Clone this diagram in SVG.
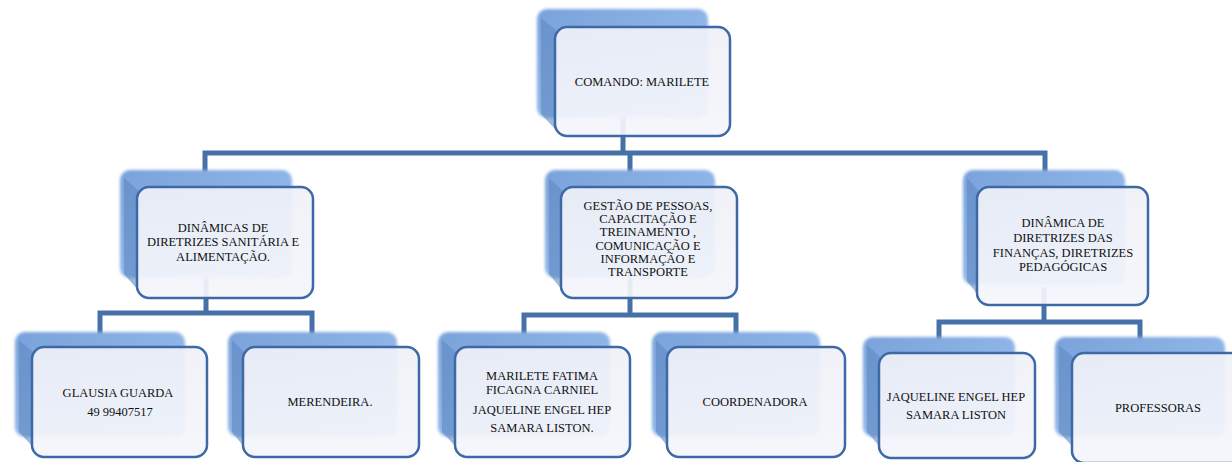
<svg xmlns="http://www.w3.org/2000/svg" width="1232" height="462" viewBox="0 0 1232 462">
<defs>
<linearGradient id="bk" x1="0" y1="0" x2="1" y2="1">
<stop offset="0" stop-color="#78a2da"/>
<stop offset="1" stop-color="#a3c5f2"/>
</linearGradient>
<linearGradient id="fr" x1="0" y1="0" x2="0" y2="1">
<stop offset="0" stop-color="#eff1f8"/>
<stop offset="1" stop-color="#f5f6fb"/>
</linearGradient>
<filter id="soft" x="-10%" y="-10%" width="120%" height="120%"><feGaussianBlur stdDeviation="1.5"/></filter>
</defs>
<style>
.c{stroke:#4571a8;stroke-width:5;fill:none;stroke-linecap:square}
.bk{fill:url(#bk);filter:url(#soft)}
.bl{fill:#5f88c2;opacity:0.6}
.fr{fill:url(#fr);fill-opacity:0.92;stroke:#3d69a6;stroke-width:2.5}
text{font-family:"Liberation Serif","Times New Roman",serif;font-size:12.5px;fill:#111111;text-anchor:middle}
</style>
<rect width="1232" height="462" fill="#ffffff"/>
<g id="connectors">
<path class="c" d="M623 118V153M205 153H1045M205 153V170M630 153V170M1045 153V170"/>
<path class="c" d="M206 277V313M100 313H312M100 313V332M312 313V332"/>
<path class="c" d="M630 277V315M524 315H736M524 315V332M736 315V332"/>
<path class="c" d="M1044 290V322M939 322H1140M939 322V337M1140 322V337"/>
</g>
<g id="n-comando">
<rect class="bk" x="537" y="9" width="171" height="109" rx="10"/>
<path class="bl" d="M541 18L556 30V130L541 114Z"/>
<rect class="fr" x="555" y="27" width="175" height="109" rx="12"/>
<text x="642" y="86">COMANDO: MARILETE</text>
</g>
<g id="n-sanitaria">
<rect class="bk" x="120" y="170" width="172" height="108" rx="10"/>
<path class="bl" d="M124 178L138 190V290L124 274Z"/>
<rect class="fr" x="137" y="187" width="176" height="111" rx="12"/>
<text x="223" y="232">DINÂMICAS DE</text>
<text x="223" y="246">DIRETRIZES SANITÁRIA E</text>
<text x="223" y="261">ALIMENTAÇÃO.</text>
</g>
<g id="n-gestao">
<rect class="bk" x="545" y="170" width="170" height="108" rx="10"/>
<path class="bl" d="M549 178L562 190V290L549 274Z"/>
<rect class="fr" x="561" y="187" width="176" height="111" rx="12"/>
<text x="648" y="210">GESTÃO DE PESSOAS,</text>
<text x="648" y="223">CAPACITAÇÃO E</text>
<text x="648" y="236">TREINAMENTO ,</text>
<text x="648" y="250">COMUNICAÇÃO E</text>
<text x="648" y="263">INFORMAÇÃO E</text>
<text x="648" y="276">TRANSPORTE</text>
</g>
<g id="n-financas">
<rect class="bk" x="963" y="170" width="162" height="115" rx="10"/>
<path class="bl" d="M967 178L978 190V295L967 281Z"/>
<rect class="fr" x="977" y="187" width="171" height="118" rx="12"/>
<text x="1063" y="227">DINÂMICA DE</text>
<text x="1063" y="242">DIRETRIZES DAS</text>
<text x="1063" y="257">FINANÇAS, DIRETRIZES</text>
<text x="1063" y="271">PEDAGÓGICAS</text>
</g>
<g id="n-glausia">
<rect class="bk" x="15" y="332" width="170" height="105" rx="10"/>
<path class="bl" d="M19 340L33 352V447L19 432Z"/>
<rect class="fr" x="32" y="347" width="175" height="110" rx="12"/>
<text x="118" y="397">GLAUSIA GUARDA</text>
<text x="120" y="416">49 99407517</text>
</g>
<g id="n-merendeira">
<rect class="bk" x="228" y="332" width="169" height="105" rx="10"/>
<path class="bl" d="M232 340L244 352V447L232 432Z"/>
<rect class="fr" x="243" y="347" width="176" height="110" rx="12"/>
<text x="330" y="406">MERENDEIRA.</text>
</g>
<g id="n-marilete">
<rect class="bk" x="438" y="332" width="172" height="105" rx="10"/>
<path class="bl" d="M442 340L456 352V447L442 432Z"/>
<rect class="fr" x="455" y="347" width="175" height="110" rx="12"/>
<text x="542" y="380">MARILETE FATIMA</text>
<text x="542" y="394">FICAGNA CARNIEL</text>
<text x="542" y="414">JAQUELINE ENGEL HEP</text>
<text x="542" y="432">SAMARA LISTON.</text>
</g>
<g id="n-coordenadora">
<rect class="bk" x="652" y="332" width="168" height="105" rx="10"/>
<path class="bl" d="M656 340L668 352V447L656 432Z"/>
<rect class="fr" x="667" y="347" width="178" height="110" rx="12"/>
<text x="755" y="406">COORDENADORA</text>
</g>
<g id="n-jaqueline">
<rect class="bk" x="863" y="337" width="152" height="100" rx="10"/>
<path class="bl" d="M867 345L880 357V447L867 432Z"/>
<rect class="fr" x="879" y="353" width="156" height="105" rx="12"/>
<text x="956" y="401">JAQUELINE ENGEL HEP</text>
<text x="956" y="419">SAMARA LISTON</text>
</g>
<g id="n-professoras">
<rect class="bk" x="1055" y="337" width="170" height="100" rx="10"/>
<path class="bl" d="M1059 345L1073 357V447L1059 432Z"/>
<rect class="fr" x="1072" y="353" width="175" height="110" rx="12"/>
<text x="1158" y="412">PROFESSORAS</text>
</g>
</svg>
